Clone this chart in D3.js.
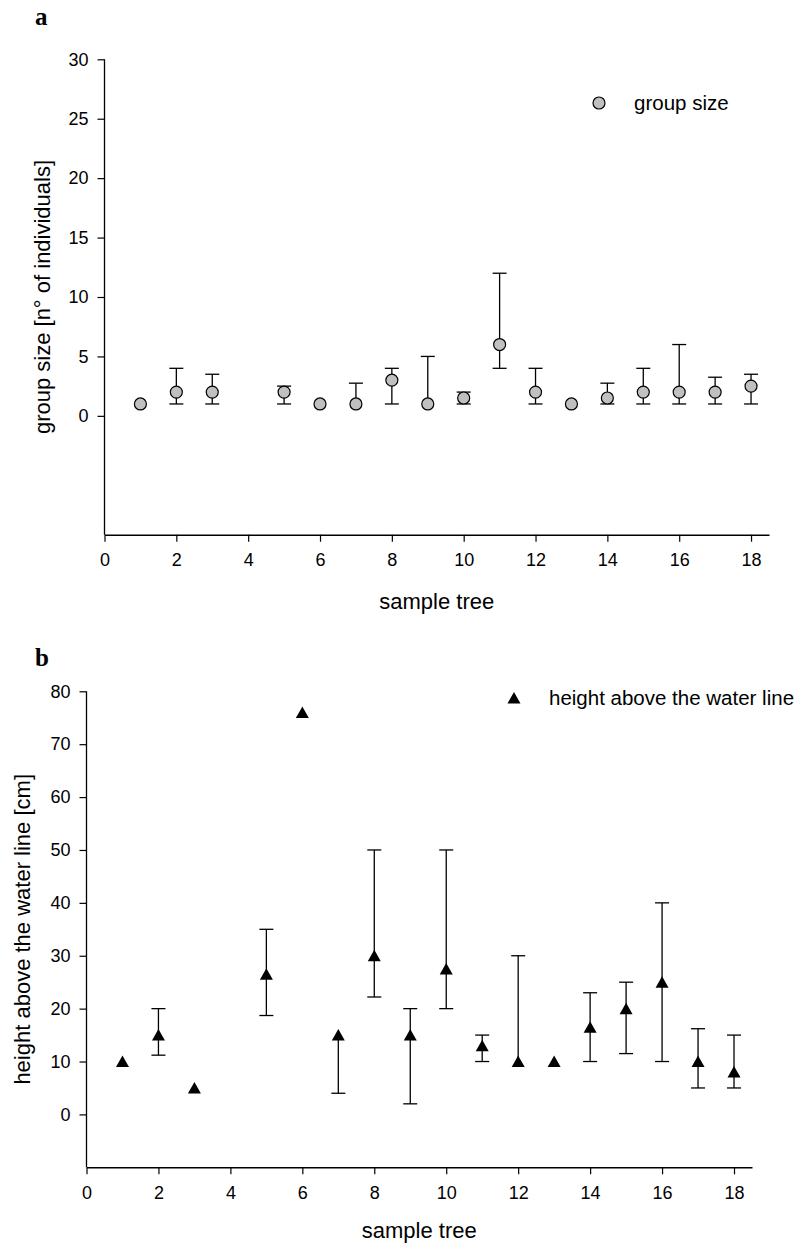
<!DOCTYPE html>
<html>
<head>
<meta charset="utf-8">
<script src="https://cdn.jsdelivr.net/npm/d3@7/dist/d3.min.js"></script>
<style>
  html, body { margin: 0; padding: 0; background: #fff; }
  svg { display: block; }
  .tick text { font-family: "Liberation Sans", Arial, sans-serif; font-size: 18px; fill: #000; }
  .lbl { font-family: "Liberation Sans", Arial, sans-serif; fill: #000; }
  .panel { font-family: "Liberation Serif", "Times New Roman", serif; font-weight: bold; font-size: 25px; }
</style>
</head>
<body>
<svg id="chart" width="797" height="1245"></svg>
<script>
// Sample trees (x) shared by both panels
const trees = [1, 2, 3, 5, 6, 7, 8, 9, 10, 11, 12, 13, 14, 15, 16, 17, 18];

// Panel a: group size [n° of individuals], mean with min/max range
const groupMean = [1, 2, 2, 2, 1, 1, 3, 1, 1.5, 6, 2, 1, 1.5, 2, 2, 2, 2.5];
const groupLow  = [null, 1, 1, 1, null, 1, 1, 1, 1, 4, 1, null, 1, 1, 1, 1, 1];
const groupHigh = [null, 4, 3.5, 2.5, null, 2.75, 4, 5, 2, 12, 4, null, 2.75, 4, 6, 3.25, 3.5];

// Panel b: height above the water line [cm], mean with min/max range
const heightMean = [10, 15, 5, 26.5, 76, 15, 30, 15, 27.5, 13, 10, 10, 16.5, 20, 25, 10, 8];
const heightLow  = [null, 11.2, null, 18.7, null, 4, 22.2, 2, 20, 10, 10, null, 10, 11.5, 10, 5, 5];
const heightHigh = [null, 20, null, 35, null, 15, 50, 20, 50, 15, 30, null, 23, 25, 40, 16.2, 15];

// Tick values
const xTicks = [0, 2, 4, 6, 8, 10, 12, 14, 16, 18];
const yTicksA = [0, 5, 10, 15, 20, 25, 30];
const yTicksB = [0, 10, 20, 30, 40, 50, 60, 70, 80];

const svg = d3.select("#chart");
const capW = 14;

function panel(opts) {
  const { x, y, yTicks, mean, low, high, marker, letter, letterPos, yTitle, yTitleX,
          legendText, legendPos, xTitleY } = opts;
  const g = svg.append("g");

  // error bars (drawn beneath markers)
  const rows = trees.map((t, i) => ({ t, m: mean[i], lo: low[i], hi: high[i] }))
    .filter(d => d.lo !== null);
  const eb = g.append("g").attr("stroke", "#000").attr("stroke-width", 1.3).attr("fill", "none");
  eb.selectAll("line.v").data(rows).join("line")
    .attr("x1", d => x(d.t)).attr("x2", d => x(d.t))
    .attr("y1", d => y(d.lo)).attr("y2", d => y(d.hi));
  eb.selectAll("line.hi").data(rows.filter(d => d.hi !== d.m)).join("line")
    .attr("x1", d => x(d.t) - capW / 2).attr("x2", d => x(d.t) + capW / 2)
    .attr("y1", d => y(d.hi)).attr("y2", d => y(d.hi));
  eb.selectAll("line.lo").data(rows.filter(d => d.lo !== d.m)).join("line")
    .attr("x1", d => x(d.t) - capW / 2).attr("x2", d => x(d.t) + capW / 2)
    .attr("y1", d => y(d.lo)).attr("y2", d => y(d.lo));

  // markers
  const pts = trees.map((t, i) => ({ t, m: mean[i] }));
  g.append("g").selectAll("g").data(pts).join("g")
    .attr("transform", d => `translate(${x(d.t)},${y(d.m)})`)
    .each(function () { marker(d3.select(this)); });

  // axes
  const yAxis = d3.axisLeft(y).tickValues(yTicks).tickSize(7).tickPadding(9).tickSizeOuter(0);
  const xAxis = d3.axisBottom(x).tickValues(xTicks).tickSize(7).tickPadding(12).tickSizeOuter(0);
  const ya = g.append("g").attr("transform", `translate(${x(0)},0)`).call(yAxis);
  ya.select(".domain").remove();
  ya.append("line").attr("x1", 0).attr("x2", 0)
    .attr("y1", y(yTicks[yTicks.length - 1])).attr("y2", y.range()[0])
    .attr("stroke", "#000").attr("stroke-width", 1.3);
  const xa = g.append("g").attr("transform", `translate(0,${y.range()[0]})`).call(xAxis);
  xa.select(".domain").attr("stroke-width", 1.6);
  g.selectAll(".tick line").attr("stroke", "#000").attr("stroke-width", 1.2);

  // titles
  g.append("text").attr("class", "lbl").attr("font-size", 22)
    .attr("text-anchor", "middle")
    .attr("x", (x.range()[0] + x.range()[1]) / 2).attr("y", xTitleY)
    .text("sample tree");
  const ymid = (y.range()[0] + y.range()[1]) / 2;
  g.append("text").attr("class", "lbl").attr("font-size", 22)
    .attr("text-anchor", "middle")
    .attr("transform", `translate(${yTitleX},${ymid}) rotate(-90)`)
    .text(yTitle);

  // panel letter
  g.append("text").attr("class", "panel").attr("x", letterPos[0]).attr("y", letterPos[1]).text(letter);

  // legend
  const lg = g.append("g").attr("transform", `translate(${legendPos[0]},${legendPos[1]})`);
  marker(lg.append("g"));
  lg.append("text").attr("class", "lbl").attr("font-size", 20.5)
    .attr("x", 35).attr("dy", "0.35em").text(legendText);
}

function circleMarker(sel) {
  sel.append("circle").attr("r", 6).attr("fill", "#c0c0c0").attr("stroke", "#000").attr("stroke-width", 1.2);
}
function triangleMarker(sel) {
  sel.append("path").attr("d", "M0,-6 L6.5,5.5 L-6.5,5.5 Z").attr("fill", "#000");
}

panel({
  x: d3.scaleLinear().domain([0, 18.5]).range([104.5, 769]),
  y: d3.scaleLinear().domain([-10, 30]).range([534.7, 59.3]),
  yTicks: yTicksA,
  mean: groupMean, low: groupLow, high: groupHigh,
  marker: circleMarker,
  letter: "a", letterPos: [35, 25],
  yTitle: "group size [n° of individuals]", yTitleX: 50,
  legendText: "group size", legendPos: [599, 103],
  xTitleY: 609
});

panel({
  x: d3.scaleLinear().domain([0, 18.5]).range([86.5, 752]),
  y: d3.scaleLinear().domain([-10, 80]).range([1167.3, 691.3]),
  yTicks: yTicksB,
  mean: heightMean, low: heightLow, high: heightHigh,
  marker: triangleMarker,
  letter: "b", letterPos: [35, 666],
  yTitle: "height above the water line [cm]", yTitleX: 30,
  legendText: "height above the water line", legendPos: [514, 698],
  xTitleY: 1238
});
</script>
</body>
</html>
